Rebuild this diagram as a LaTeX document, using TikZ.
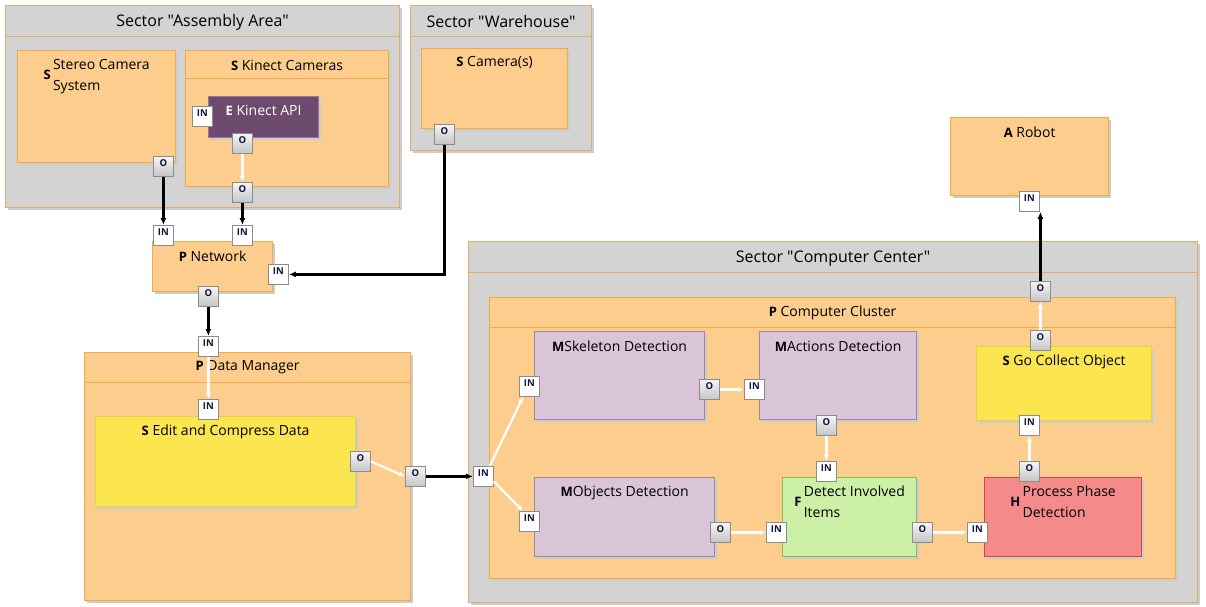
\documentclass[tikz,border=0pt]{standalone}
\usepackage{fontspec}
\setmainfont{Open Sans}[Ligatures=TeXOff]
\usetikzlibrary{arrows.meta,shadows}

\definecolor{secfill}{RGB}{211,211,211}
\definecolor{secline}{RGB}{228,172,104}
\definecolor{orfill}{RGB}{252,205,140}
\definecolor{orline}{RGB}{240,170,72}
\definecolor{yelfill}{RGB}{251,230,80}
\definecolor{yelline}{RGB}{226,212,70}
\definecolor{mfill}{RGB}{217,196,216}
\definecolor{mline}{RGB}{160,135,160}
\definecolor{efill}{RGB}{110,74,110}
\definecolor{eline}{RGB}{150,120,150}
\definecolor{gfill}{RGB}{204,240,166}
\definecolor{gline}{RGB}{128,190,90}
\definecolor{hfill}{RGB}{244,138,138}
\definecolor{hline}{RGB}{208,70,70}
\definecolor{portline}{RGB}{140,140,140}
\definecolor{porttext}{RGB}{20,20,60}

\newcommand\boxtag[1]{{\fontsize{13}{13}\selectfont\bfseries #1}}

\tikzset{
  blk/.style={anchor=north west, inner sep=0pt, line width=1.2pt,
    general shadow={fill=black!20, shadow xshift=2.5pt, shadow yshift=-2.5pt}},
  sector/.style={blk, fill=secfill, draw=secline},
  orange/.style={blk, fill=orfill, draw=orline},
  yellow/.style={blk, fill=yelfill, draw=yelline},
  mod/.style={blk, fill=mfill, draw=mline},
  ext/.style={blk, fill=efill, draw=eline},
  func/.style={blk, fill=gfill, draw=gline},
  hw/.style={blk, fill=hfill, draw=hline},
  divider/.style={line width=0.8pt},
  ttl/.style={inner sep=0pt, font=\fontsize{16}{19}\selectfont},
  txt/.style={inner sep=0pt, font=\fontsize{14}{21}\selectfont},
  portin/.style={anchor=north west, minimum size=20pt, inner sep=0pt,
    fill=white, draw=portline, line width=0.8pt,
    font=\fontsize{9.5}{10}\selectfont\bfseries, text=porttext,
    text height=7pt, text depth=7pt},
  portout/.style={portin, top color=gray!8, bottom color=gray!45},
  barrow/.style={draw=black, line width=2.2pt, -{Latex[length=7pt,width=6pt]}},
  warrow/.style={draw=white, line width=2.2pt, -{Latex[length=6pt,width=5.5pt]}},
}

\begin{document}
\begin{tikzpicture}[x=1pt, y=-1pt]
\useasboundingbox (0,0) rectangle (1206,607);

% ---- sectors ----
\node[sector, minimum width=394pt, minimum height=202pt] (secA) at (5,5) {};
\draw[divider, secline] (secA.west |- 0,36) -- (secA.east |- 0,36);
\node[ttl] (secA-t) at (secA.north |- 0,22) {Sector "Assembly Area"};

\node[sector, minimum width=181pt, minimum height=145pt] (secW) at (410,5) {};
\draw[divider, secline] (secW.west |- 0,36) -- (secW.east |- 0,36);
\node[ttl] (secW-t) at (secW.north |- 0,22) {Sector "Warehouse"};

\node[sector, minimum width=729pt, minimum height=361pt] (secC) at (468,241) {};
\draw[divider, secline] (secC.west |- 0,272) -- (secC.east |- 0,272);
\node[ttl] (secC-t) at (secC.north |- 0,258.5) {Sector "Computer Center"};

% ---- assembly area ----
\node[orange, minimum width=158pt, minimum height=112pt] (stereo) at (17,50) {};
\node[txt] (stereo-t) at ([yshift=-26pt]stereo.north)
  {\boxtag{S}\,\begin{tabular}{@{}l@{}}Stereo Camera\\System\end{tabular}};

\node[orange, minimum width=203pt, minimum height=136pt] (kinect) at (185,50) {};
\draw[divider, orline] (kinect.west |- 0,78) -- (kinect.east |- 0,78);
\node[txt] (kinect-t) at (kinect.north |- 0,65) {\boxtag{S} Kinect Cameras};

\node[ext, minimum width=110pt, minimum height=41pt] (kapi) at (208,96) {};
\node[txt, text=white] (kapi-t) at ([yshift=-14.5pt]kapi.north) {\boxtag{E} Kinect API};

% ---- warehouse ----
\node[orange, minimum width=146pt, minimum height=80pt] (camera) at (421,48) {};
\node[txt] (camera-t) at ([yshift=-15pt]camera.north) {\boxtag{S} Camera(s)};

% ---- network ----
\node[orange, minimum width=120pt, minimum height=50pt] (network) at (152,241) {};
\node[txt] (network-t) at ([yshift=-15pt]network.north) {\boxtag{P} Network};

% ---- robot ----
\node[orange, minimum width=158pt, minimum height=78pt] (robot) at (950,117) {};
\node[txt] (robot-t) at ([yshift=-15.5pt]robot.north) {\boxtag{A} Robot};

% ---- data manager ----
\node[orange, minimum width=326pt, minimum height=248pt] (dm) at (84,352) {};
\draw[divider, orline] (dm.west |- 0,382) -- (dm.east |- 0,382);
\node[txt] (dm-t) at (dm.north |- 0,367.5) {\boxtag{P} Data Manager};

\node[yellow, minimum width=260pt, minimum height=90pt] (edit) at (95,416) {};
\node[txt] (edit-t) at ([yshift=-15.5pt]edit.north) {\boxtag{S} Edit and Compress Data};

% ---- computer cluster ----
\node[orange, minimum width=686pt, minimum height=281pt] (cluster) at (489,297) {};
\draw[divider, orline] (cluster.west |- 0,327) -- (cluster.east |- 0,327);
\node[txt] (cluster-t) at (cluster.north |- 0,312.5) {\boxtag{P} Computer Cluster};

\node[mod, minimum width=170pt, minimum height=88pt] (skel) at (534,331) {};
\node[txt] (skel-t) at ([yshift=-15.5pt]skel.north) {\boxtag{M}Skeleton Detection};

\node[mod, minimum width=157pt, minimum height=88pt] (actions) at (759,331) {};
\node[txt] (actions-t) at ([yshift=-15.5pt]actions.north) {\boxtag{M}Actions Detection};

\node[yellow, minimum width=175pt, minimum height=74pt] (gco) at (976,346) {};
\node[txt] (gco-t) at ([yshift=-15.5pt]gco.north) {\boxtag{S} Go Collect Object};

\node[mod, minimum width=180pt, minimum height=79pt] (objd) at (534,477) {};
\node[txt] (objd-t) at ([yshift=-15.5pt]objd.north) {\boxtag{M}Objects Detection};

\node[func, minimum width=134pt, minimum height=79pt] (detect) at (782,477) {};
\node[txt] (detect-t) at ([yshift=-26pt]detect.north)
  {\boxtag{F}\,\begin{tabular}{@{}l@{}}Detect Involved\\Items\end{tabular}};

\node[hw, minimum width=157pt, minimum height=79pt] (proc) at (984,477) {};
\node[txt] (proc-t) at ([yshift=-26pt]proc.north)
  {\boxtag{H}\,\begin{tabular}{@{}l@{}}Process Phase\\Detection\end{tabular}};

% ---- ports ----
\node[portout] (stO)    at (153,156) {O};
\node[portin]  (kapiIN) at (192,106) {IN};
\node[portout] (kapiO)  at (232,133) {O};
\node[portout] (kcO)    at (232,182) {O};
\node[portout] (camO)   at (434,124) {O};
\node[portin]  (netIN1) at (153,225) {IN};
\node[portin]  (netIN2) at (232,225) {IN};
\node[portin]  (netIN3) at (268,264) {IN};
\node[portout] (netO)   at (198,286) {O};
\node[portin]  (dmIN)   at (198,336) {IN};
\node[portin]  (editIN) at (198,399) {IN};
\node[portout] (editO)  at (350,451) {O};
\node[portout] (dmO)    at (405,466) {O};
\node[portin]  (ccIN)   at (473,466) {IN};
\node[portin]  (skIN)   at (519,376) {IN};
\node[portout] (skO)    at (699,379) {O};
\node[portin]  (acIN)   at (744,379) {IN};
\node[portout] (acO)    at (816,415) {O};
\node[portin]  (objIN)  at (519,511) {IN};
\node[portout] (objO)   at (710,522) {O};
\node[portin]  (detIN1) at (766,522) {IN};
\node[portin]  (detIN2) at (816,461) {IN};
\node[portout] (detO)   at (912,522) {O};
\node[portin]  (prIN)   at (967,522) {IN};
\node[portout] (prO)    at (1019,461) {O};
\node[portin]  (gcIN)   at (1019,415) {IN};
\node[portout] (gcO)    at (1030,330) {O};
\node[portout] (clO)    at (1030,281) {O};
\node[portin]  (robIN)  at (1019,191) {IN};

% ---- connections between areas ----
\draw[barrow] (stO.south) -- (netIN1.north);
\draw[barrow] (kcO.south) -- (netIN2.north);
\draw[barrow] (camO.south) |- (netIN3.east);
\draw[barrow] (netO.south) -- (dmIN.north);
\draw[barrow] (dmO.east) -- (ccIN.west);
\draw[barrow] (clO.north) -- (clO.north |- robIN.south);

% ---- connections inside containers ----
\draw[warrow] (kapiO.south) -- (kcO.north);
\draw[warrow] (dmIN.south) -- (editIN.north);
\draw[warrow] (editO.east) -- (dmO.west);
\draw[warrow] ([xshift=-4pt]ccIN.north east) -- ([xshift=4pt]skIN.south west);
\draw[warrow] ([yshift=-5pt]ccIN.east) -- ([xshift=4pt]objIN.north west);
\draw[warrow] (skO.east) -- (acIN.west);
\draw[warrow] (acO.south) -- (detIN2.north);
\draw[warrow] (objO.east) -- (detIN1.west);
\draw[warrow] (detO.east) -- (prIN.west);
\draw[warrow] (prO.north) -- (gcIN.south);
\draw[warrow] (gcO.north) -- (clO.south);
\end{tikzpicture}
\end{document}
